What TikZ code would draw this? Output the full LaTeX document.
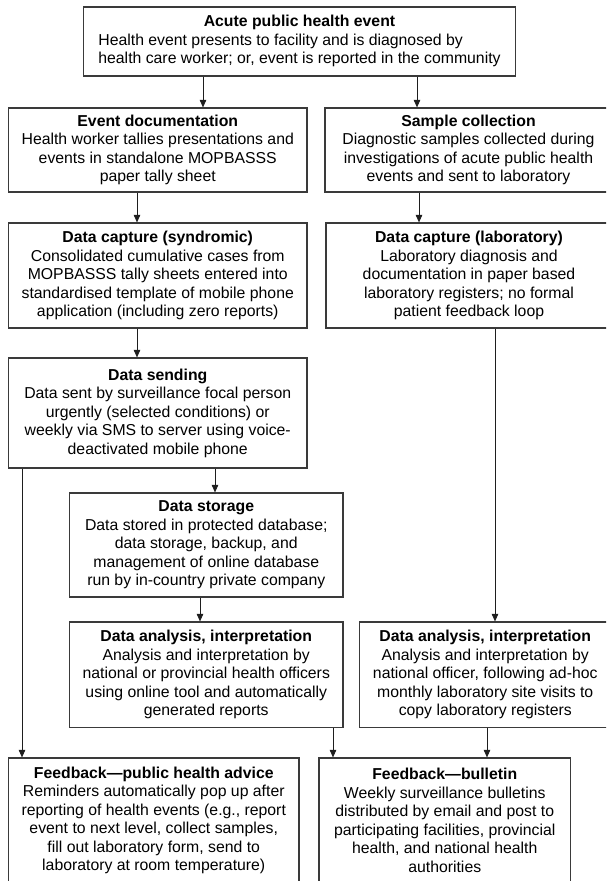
\documentclass[tikz,border=0pt]{standalone}
\usepackage{fontspec}
\setmainfont{Liberation Sans}
\usepackage{xcolor}
\usepackage{tikz}
\usetikzlibrary{arrows.meta}
\definecolor{framegray}{HTML}{3A3A3A}
\definecolor{linegray}{HTML}{1E1E1E}

\begin{document}
\begin{tikzpicture}[x=1pt,y=-1pt,>={Triangle[length=7.5pt,width=6.5pt]},
  box/.style={draw=framegray,line width=1.2pt,align=center,inner sep=0pt,
    font=\fontsize{15.8}{18.5}\selectfont},
  arr/.style={->,line width=0.9pt,linegray}]
  \useasboundingbox (0,0) rectangle (606,881);
  \clip (0,0) rectangle (606,881);
  % top event
  \node[box,minimum width=432pt,minimum height=69pt] (acute) at (299.5,41.5)
    {\begin{tabular}{@{}l@{}}\multicolumn{1}{@{}c@{}}{\textbf{Acute public health event}}\\
     Health event presents to facility and is diagnosed by\\
     health care worker; or, event is reported in the community\end{tabular}};
  % syndromic branch
  \node[box,minimum width=298.5pt,minimum height=84pt] (evdoc) at (157.75,150)
    {\textbf{Event documentation}\\Health worker tallies presentations and\\
     events in standalone MOPBASSS\\paper tally sheet};
  \node[box,minimum width=298.5pt,minimum height=105pt] (capsyn) at (157.75,275.5)
    {\textbf{Data capture (syndromic)}\\Consolidated cumulative cases from\\
     MOPBASSS tally sheets entered into\\standardised template of mobile phone\\
     application (including zero reports)};
  \node[box,minimum width=298.5pt,minimum height=110pt] (sending) at (157.75,413)
    {\textbf{Data sending}\\Data sent by surveillance focal person\\
     urgently (selected conditions) or\\weekly via SMS to server using voice-\\
     deactivated mobile phone};
  \node[box,minimum width=273.5pt,minimum height=104pt] (storage) at (206.25,545)
    {\textbf{Data storage}\\Data stored in protected database;\\
     data storage, backup, and\\management of online database\\
     run by in-country private company};
  \node[box,minimum width=273.5pt,minimum height=105.5pt] (anasyn) at (206.25,674.75)
    {\textbf{Data analysis, interpretation}\\Analysis and interpretation by\\
     national or provincial health officers\\using online tool and automatically\\
     generated reports};
  % laboratory branch
  \node[box,minimum width=287pt,minimum height=84pt] (sample) at (468.5,150)
    {\textbf{Sample collection}\\Diagnostic samples collected during\\
     investigations of acute public health\\events and sent to laboratory};
  \node[box,minimum width=286pt,minimum height=105pt] (caplab) at (469,275.5)
    {\textbf{Data capture (laboratory)}\\Laboratory diagnosis and\\
     documentation in paper based\\laboratory registers; no formal\\
     patient feedback loop};
  \node[box,minimum width=251.5pt,minimum height=105.5pt] (analab) at (485.25,674.75)
    {\textbf{Data analysis, interpretation}\\Analysis and interpretation by\\
     national officer, following ad-hoc\\monthly laboratory site visits to\\
     copy laboratory registers};
  % feedback
  \node[box,minimum width=290.5pt,minimum height=125pt] (advice) at (153.75,820.5)
    {\textbf{Feedback—public health advice}\\Reminders automatically pop up after\\
     reporting of health events (e.g., report\\event to next level, collect samples,\\
     fill out laboratory form, send to\\laboratory at room temperature)};
  \node[box,minimum width=251.5pt,minimum height=125pt] (bulletin) at (444.75,820.5)
    {\textbf{Feedback—bulletin}\\Weekly surveillance bulletins\\
     distributed by email and post to\\participating facilities, provincial\\
     health, and national health\\authorities};
  % connectors
  \draw[arr] (acute.south -| 203,0) -- (evdoc.north -| 203,0);
  \draw[arr] (acute.south -| 417,0) -- (sample.north -| 417,0);
  \draw[arr] (evdoc.south -| 137,0) -- (capsyn.north -| 137,0);
  \draw[arr] (sample.south -| 419,0) -- (caplab.north -| 419,0);
  \draw[arr] (capsyn.south -| 137,0) -- (sending.north -| 137,0);
  \draw[arr] (sending.south -| 215,0) -- (storage.north -| 215,0);
  \draw[arr] (storage.south -| 200,0) -- (anasyn.north -| 200,0);
  \draw[arr] (caplab.south -| 495,0) -- (analab.north -| 495,0);
  \draw[arr] (sending.south -| 22,0) -- (advice.north -| 22,0);
  \draw[arr] (anasyn.south -| 333,0) -- (bulletin.north -| 333,0);
  \draw[arr] (analab.south -| 487,0) -- (bulletin.north -| 487,0);
\end{tikzpicture}
\end{document}
